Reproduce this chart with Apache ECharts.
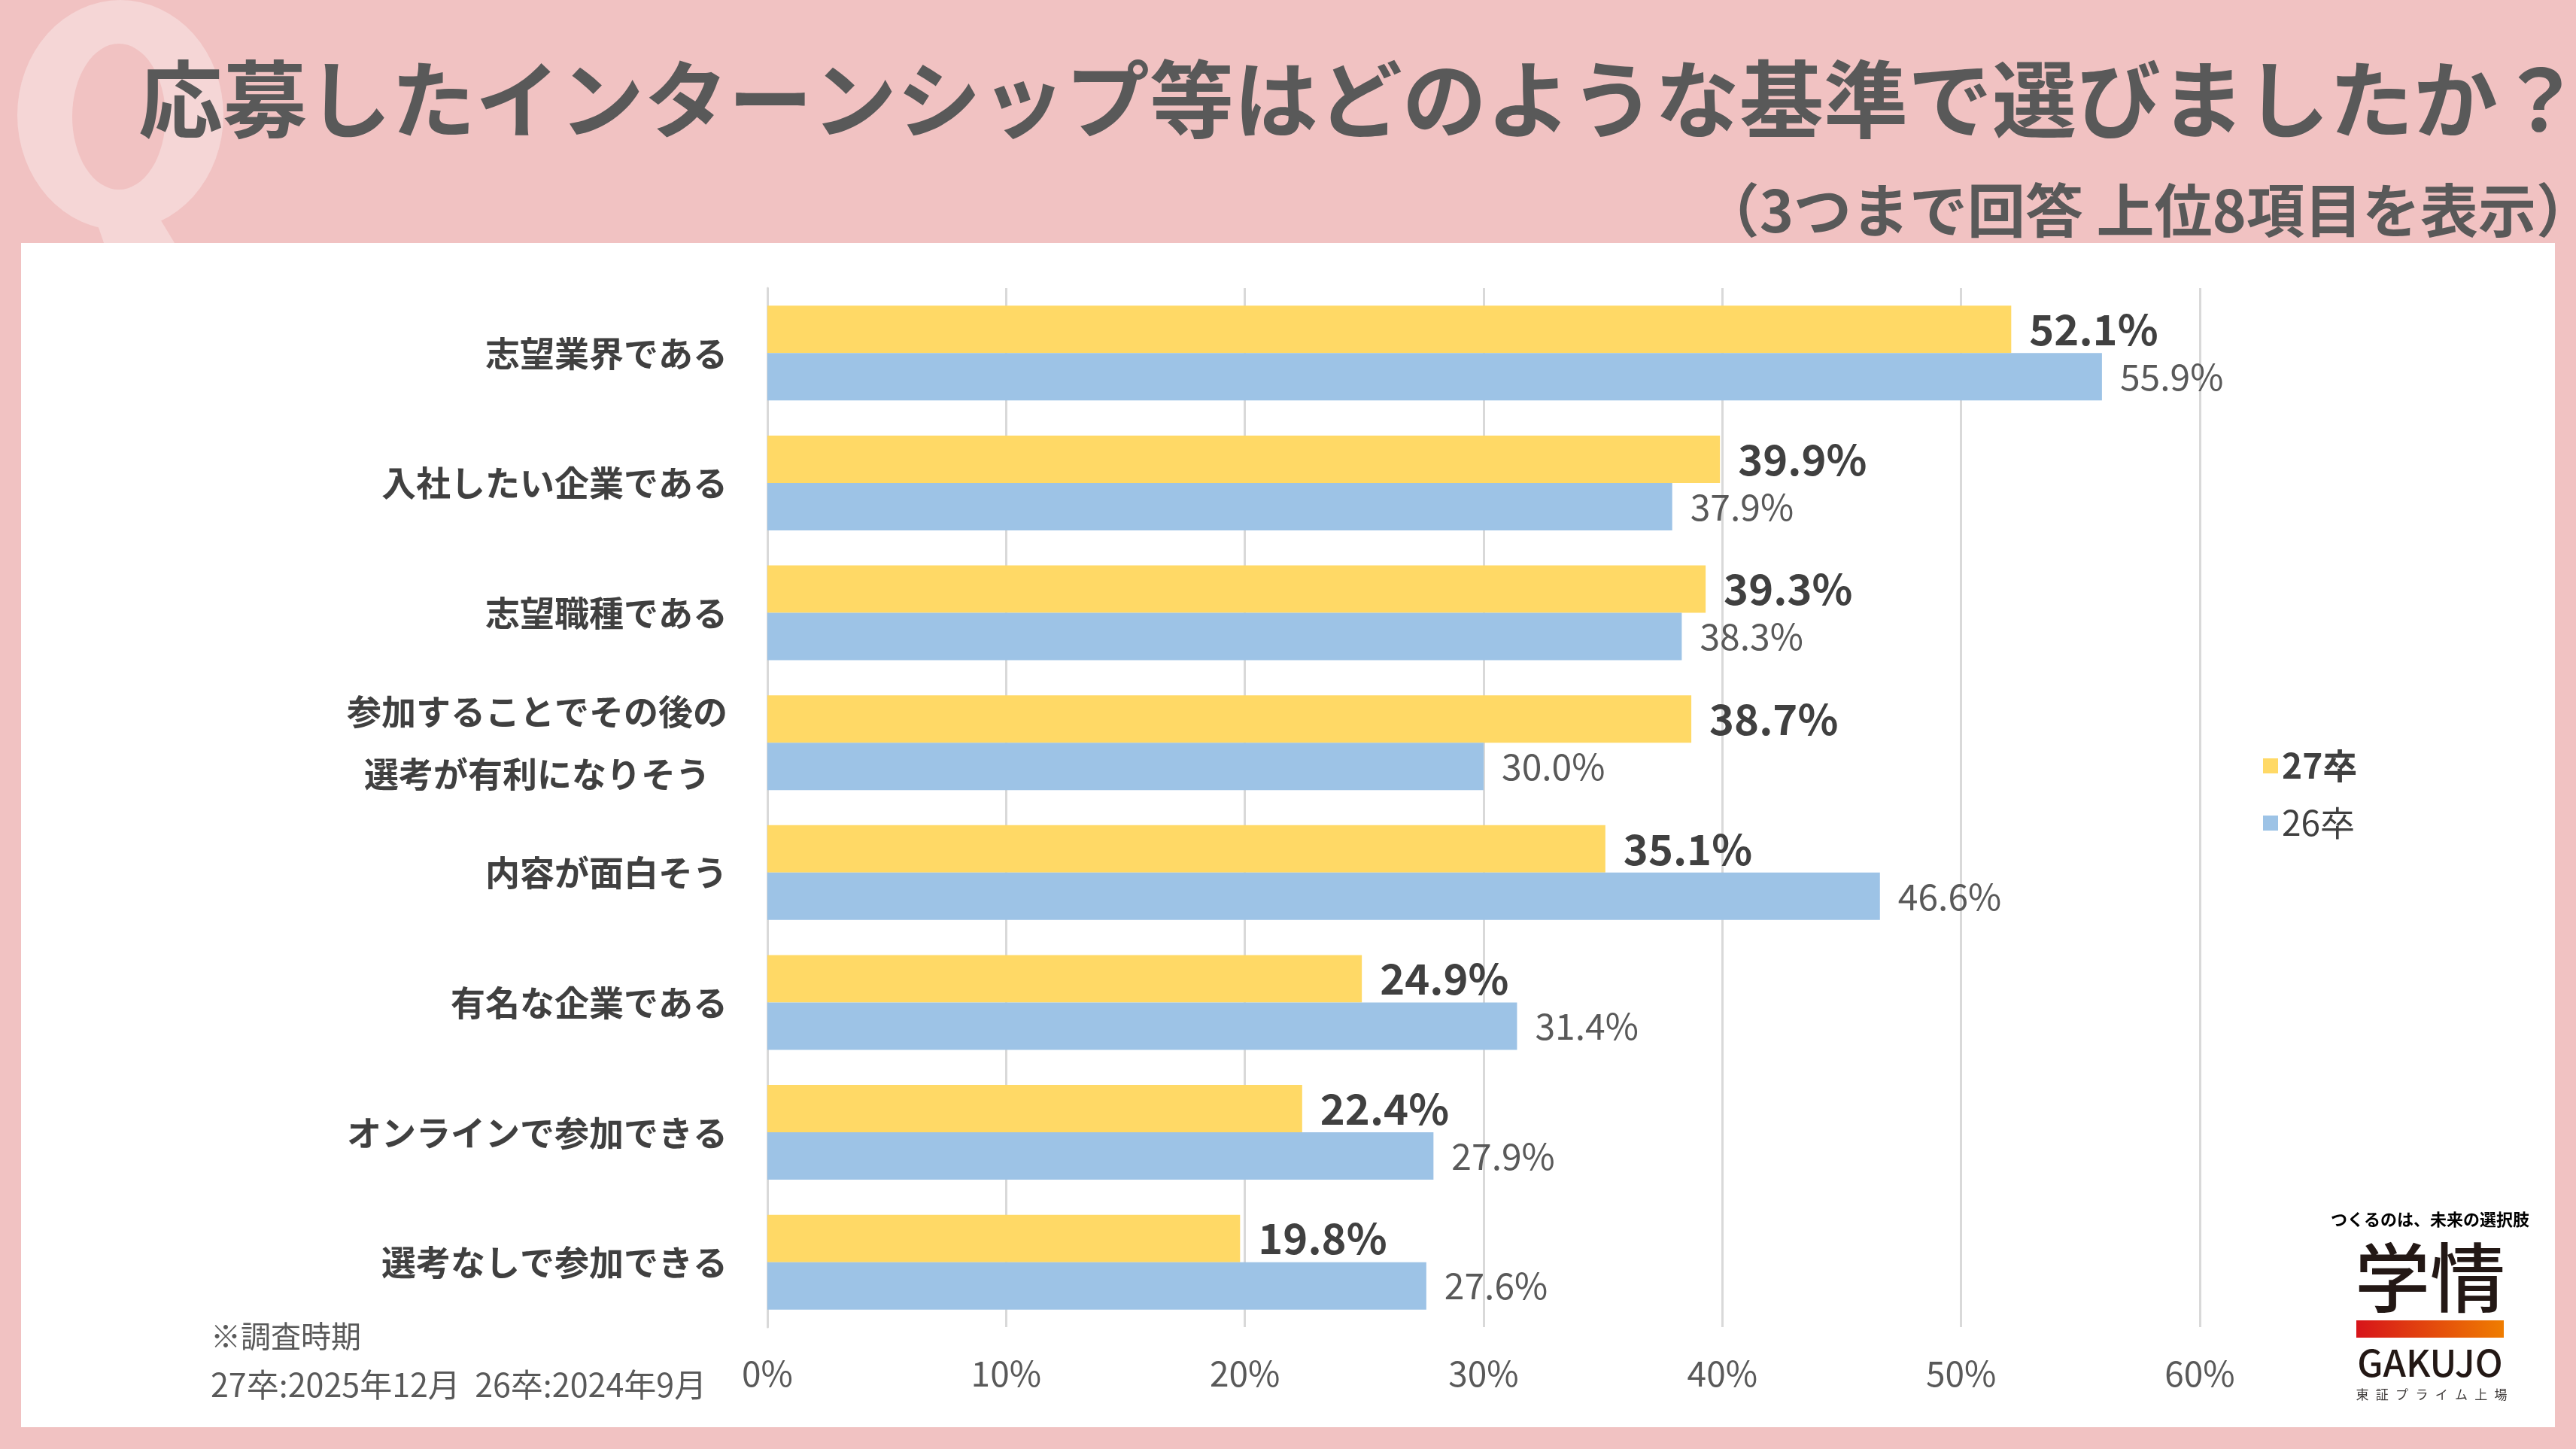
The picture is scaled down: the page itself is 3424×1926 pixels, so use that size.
<!DOCTYPE html>
<html>
<head>
<meta charset="utf-8">
<script src="https://cdn.jsdelivr.net/npm/echarts@6/dist/echarts.min.js"></script>
<style>
  html, body { margin: 0; padding: 0; background: #F1C2C2; }
  #main { width: 3424px; height: 1926px; }
</style>
</head>
<body>
<div id="main"></div>
<script>
// 選択基準 (上位8項目)
let categories = [
    '志望業界である',
    '入社したい企業である',
    '志望職種である',
    '参加することでその後の\n選考が有利になりそう',
    '内容が面白そう',
    '有名な企業である',
    'オンラインで参加できる',
    '選考なしで参加できる'
];
let data27 = [52.1, 39.9, 39.3, 38.7, 35.1, 24.9, 22.4, 19.8];
let data26 = [55.9, 37.9, 38.3, 30.0, 46.6, 31.4, 27.9, 27.6];
let seriesNames = ['27卒', '26卒'];
let xTicks = [0, 10, 20, 30, 40, 50, 60];

let FONT = '"Noto Sans CJK JP", "Noto Sans", sans-serif';
let stockChars = ['東', '証', 'プ', 'ラ', 'イ', 'ム', '上', '場'];

+function () {
    let chart = echarts.init(document.getElementById('main'));

    let logoText = stockChars.map((c, i) => ({
        type: 'text',
        x: 3140 + i * 26.3,
        y: 1854,
        style: { text: c, font: '17px ' + FONT, fill: '#3e3a39', textAlign: 'center', textVerticalAlign: 'middle' }
    }));

    let option = {
        backgroundColor: '#F1C2C2',
        textStyle: { fontFamily: FONT },
        animation: false,
        graphic: [
            // 大きな "Q"
            { type: 'circle', x: 160, y: 153, scaleY: 153 / 137, shape: { cx: 0, cy: 0, r: 137 }, style: { fill: '#F5D6D6' } },
            { type: 'circle', x: 158, y: 155, scaleY: 97 / 62, shape: { cx: 0, cy: 0, r: 62 }, style: { fill: '#F1C2C2' } },
            { type: 'polygon', shape: { points: [[120, 270], [200, 270], [232, 323], [138, 323]] }, style: { fill: '#F5D6D6' } },
            // 白いパネル
            { type: 'rect', shape: { x: 28, y: 323, width: 3368, height: 1574 }, style: { fill: '#ffffff' } },
            // タイトル
            {
                type: 'text', x: 3432, y: 132,
                style: { text: '応募したインターンシップ等はどのような基準で選びましたか？', font: 'bold 112px ' + FONT, fill: '#595959', textAlign: 'right', textVerticalAlign: 'middle' }
            },
            {
                type: 'text', x: 3448, y: 280,
                style: { text: '（3つまで回答 上位8項目を表示）', font: 'bold 77px ' + FONT, fill: '#595959', textAlign: 'right', textVerticalAlign: 'middle' }
            },
            // 調査時期
            {
                type: 'text', x: 280, y: 1776,
                style: { text: '※調査時期', font: '40px ' + FONT, fill: '#595959', textVerticalAlign: 'middle' }
            },
            {
                type: 'text', x: 280, y: 1841,
                style: { text: '27卒:2025年12月  26卒:2024年9月', font: '43px ' + FONT, fill: '#595959', textVerticalAlign: 'middle' }
            },
            // ロゴ
            {
                type: 'text', x: 3230, y: 1621,
                style: {
                    text: 'つくるのは、未来の選択肢', font: 'bold 22px ' + FONT, textAlign: 'center', textVerticalAlign: 'middle',
                    fill: { type: 'linear', x: 0, y: 0, x2: 1, y2: 0, colorStops: [{ offset: 0, color: '#D7141A' }, { offset: 1, color: '#EE7800' }] }
                }
            },
            {
                type: 'text', x: 3230, y: 1698,
                style: { text: '学情', font: '500 100px ' + FONT, fill: '#231815', textAlign: 'center', textVerticalAlign: 'middle' }
            },
            {
                type: 'rect', shape: { x: 3132, y: 1755, width: 196, height: 23 },
                style: { fill: { type: 'linear', x: 0, y: 0, x2: 1, y2: 0, colorStops: [{ offset: 0, color: '#D7141A' }, { offset: 1, color: '#EF7D00' }] } }
            },
            {
                type: 'text', x: 3230, y: 1811,
                style: { text: 'GAKUJO', font: '500 49px ' + FONT, fill: '#231815', textAlign: 'center', textVerticalAlign: 'middle' }
            }
        ].concat(logoText),
        legend: {
            orient: 'vertical',
            left: 3003,
            top: 990,
            itemWidth: 20,
            itemHeight: 20,
            itemGap: 30,
            icon: 'rect',
            textStyle: { fontSize: 46, color: '#404040', lineHeight: 46, fontFamily: FONT },
            data: [
                { name: seriesNames[0], textStyle: { fontWeight: 'bold' } },
                { name: seriesNames[1] }
            ]
        },
        grid: {
            left: 1020,
            width: 1904,
            top: 383,
            height: 1381,
            containLabel: false
        },
        xAxis: {
            type: 'value',
            min: 0,
            max: 60,
            interval: 10,
            axisLine: { show: false },
            axisTick: { show: false },
            axisLabel: {
                fontSize: 46,
                color: '#595959',
                margin: 39,
                formatter: v => xTicks.indexOf(v) >= 0 ? v + '%' : ''
            },
            splitLine: { show: true, lineStyle: { color: '#D9D9D9', width: 3 } }
        },
        yAxis: {
            type: 'category',
            inverse: true,
            data: categories,
            axisLine: { show: true, lineStyle: { color: '#D9D9D9', width: 3 } },
            axisTick: { show: false },
            axisLabel: {
                margin: 53,
                fontSize: 46,
                fontWeight: 'bold',
                color: '#404040',
                lineHeight: 83,
                formatter: function (v) {
                    if (v.indexOf('\n') < 0) return v;
                    return v.split('\n').map(s => '{m|' + s + '}').join('\n');
                },
                rich: {
                    m: { width: 506, align: 'center', fontSize: 46, fontWeight: 'bold', color: '#404040', lineHeight: 83 }
                }
            }
        },
        series: [
            {
                name: seriesNames[0],
                type: 'bar',
                data: data27,
                barWidth: 63,
                barGap: '0%',
                itemStyle: { color: '#FFD966' },
                label: {
                    show: true,
                    position: 'right',
                    distance: 24,
                    formatter: p => p.value.toFixed(1) + '%',
                    fontSize: 56,
                    fontWeight: 'bold',
                    color: '#404040'
                }
            },
            {
                name: seriesNames[1],
                type: 'bar',
                data: data26,
                barWidth: 63,
                barGap: '0%',
                itemStyle: { color: '#9DC3E6' },
                label: {
                    show: true,
                    position: 'right',
                    distance: 24,
                    formatter: p => p.value.toFixed(1) + '%',
                    fontSize: 48,
                    color: '#595959'
                }
            }
        ]
    };

    chart.setOption(option);
}();
</script>
</body>
</html>
